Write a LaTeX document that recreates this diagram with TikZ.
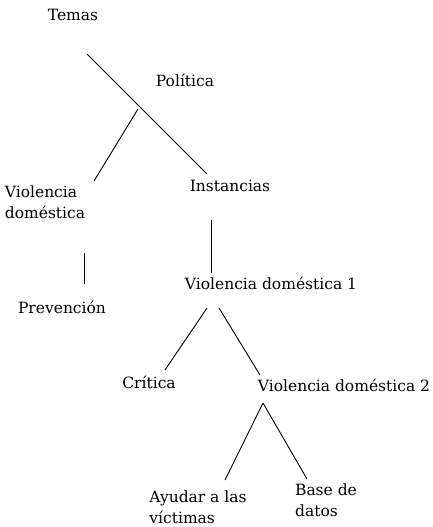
\documentclass[tikz,border=0pt]{standalone}
\usepackage{fontspec}
\setmainfont{DejaVu Serif}
\usetikzlibrary{calc}
\begin{document}
\begin{tikzpicture}[x=1pt,y=-1pt,
  lbl/.style={inner sep=0pt,font=\fontsize{15.5}{21}\selectfont,align=left},
  edge/.style={line width=0.9pt}]
\useasboundingbox (0,0) rectangle (433,527);
\node[lbl] (temas) at (73,15) {Temas};
\node[lbl] (politica) at (185,80) {Política};
\node[lbl] (vd) at (45,202) {Violencia\\doméstica};
\node[lbl] (instancias) at (230,186) {Instancias};
\node[lbl] (prevencion) at (62,307) {Prevención};
\node[lbl] (vd1) at (271,283) {Violencia doméstica 1};
\node[lbl] (critica) at (149,382) {Crítica};
\node[lbl] (vd2) at (344,385) {Violencia doméstica 2};
\node[lbl] (ayudar) at (198,507) {Ayudar a las\\víctimas};
\node[lbl] (base) at (326,500) {Base de\\datos};
\draw[edge] ($(temas)+(14,39)$) -- ($(instancias)+(-23,-12)$);
\draw[edge] ($(politica)+(-47,29)$) -- ($(vd)+(49,-21)$);
\draw[edge] ($(instancias)+(-19,34)$) -- ($(vd1)+(-60,-10)$);
\draw[edge] ($(vd)+(39,51)$) -- ($(prevencion)+(22,-23)$);
\draw[edge] ($(vd1)+(-64,25)$) -- ($(critica)+(16,-12)$);
\draw[edge] ($(vd1)+(-52,25)$) -- ($(vd2)+(-84,-10)$);
\draw[edge] ($(vd2)+(-81,18)$) -- ($(ayudar)+(27,-27)$);
\draw[edge] ($(vd2)+(-81,18)$) -- ($(base)+(-19,-21)$);
\end{tikzpicture}
\end{document}
